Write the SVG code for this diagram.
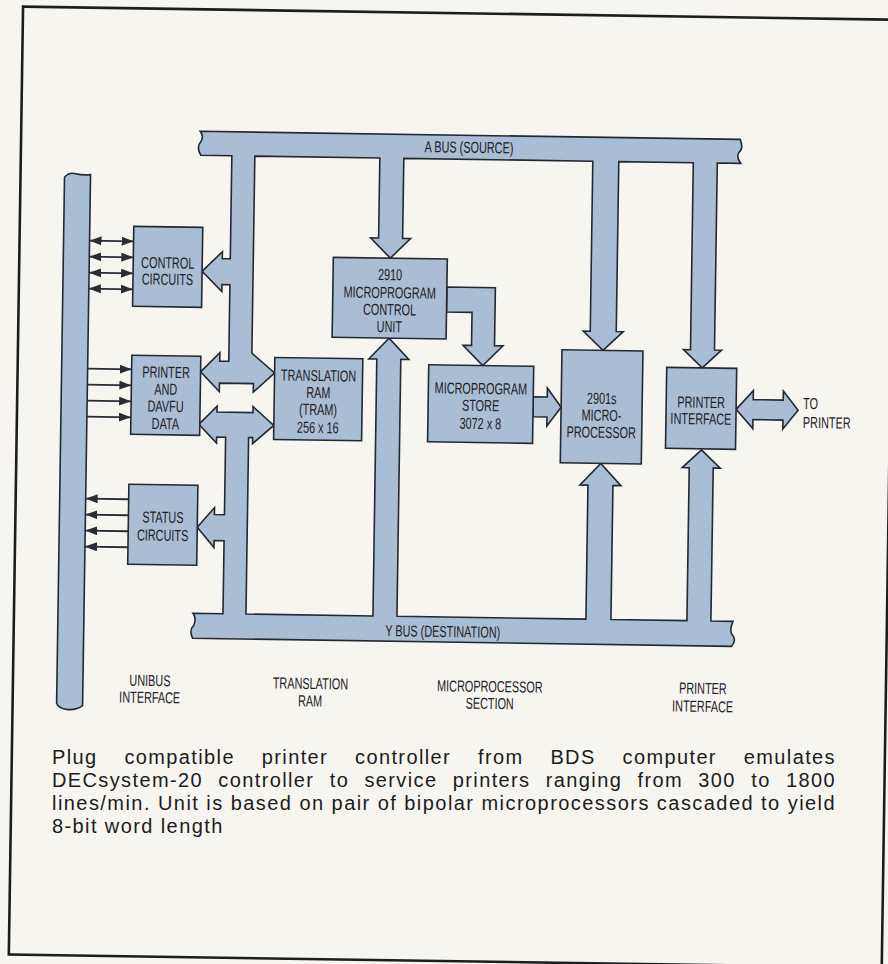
<svg xmlns="http://www.w3.org/2000/svg" width="888" height="964" viewBox="0 0 888 964">
<defs>
<style>
.bus{fill:#a9bdd4;stroke:#232932;stroke-width:1.6;stroke-linejoin:miter}
.box{fill:#a9bdd4;stroke:#232932;stroke-width:1.6}
.t{font-family:"Liberation Sans",Arial,sans-serif;font-size:16px;fill:#1e2128;text-anchor:middle}
.ts{font-family:"Liberation Sans",Arial,sans-serif;font-size:16px;fill:#1e2128;text-anchor:start}
.cap{font-family:"Liberation Sans",Arial,sans-serif;font-size:20px;letter-spacing:1.4px;fill:#1c1c1c}
.sig{stroke:#2a2d35;stroke-width:1.8;fill:none}
.frame{fill:none;stroke:#1d1d1d;stroke-width:2.6}
</style>
<marker id="ah" viewBox="0 0 12 9" refX="12" refY="4.5" markerWidth="12" markerHeight="9" markerUnits="userSpaceOnUse" orient="auto-start-reverse">
<path d="M0,0 L12,4.5 L0,9 Z" fill="#2a2d35"/>
</marker>
</defs>
<rect x="0" y="0" width="888" height="964" fill="#f6f5f0"/>
<g transform="rotate(0.86 444 480)">
<rect class="frame" x="16" y="13" width="873" height="948"/>

<g id="connectors">
<path id="unibus" class="bus" d="M60,183 Q64,178 70,179 Q78,181 86,180 L86,711 Q80,716 70,715 Q62,714 60,709 Z"/>
<path id="a-bus" class="bus" d="M195,135 L735,135 Q739,144 734,148 Q731,153 736,159 L712.5,159 L712.5,346 L719.5,346 L700.5,364 L681.5,346 L688.5,346 L688.5,159 L614,159 L614,329 L621,329 L601,348 L581,329 L588,329 L588,159 L399,159 L399,239 L407,239 L387,259 L367,239 L375,239 L375,159 L250,159 L250,356 L273,375.5 L252,395 L252,386.5 L218,386.5 L218,395 L199,375.5 L218,356 L218,364.5 L227,364.5 L227,288 L219,288 L219,295 L199,275 L219,255 L219,262 L227,262 L227,159 L196,159 Q191,151 196,145 Q199,140 195,135 Z"/>
<path id="y-bus" class="bus" d="M195,642 Q191,634 196,629 Q199,622 195,617 L225,617 L225,544 L215,544 L215,551 L198,531 L215,511 L215,518 L225,518 L225,440.5 L216,440.5 L216,446.5 L198,428 L216,409.5 L216,415.5 L252,415.5 L252,409.5 L273,428 L252,446.5 L252,440.5 L248,440.5 L248,617 L375,617 L375,360 L367,360 L387,339 L407,360 L399,360 L399,617 L588,617 L588,483 L580,483 L600.5,461 L621,483 L613,483 L613,617 L689,617 L689,464 L682,464 L701,446 L720,464 L713,464 L713,617 L735,617 Q731,627 735,631 Q739,636 734,642 Z"/>
<path id="cu-to-store" class="bus" d="M444,287 L492.5,287 L492.5,345 L501,345 L481,365 L461,345 L469.5,345 L469.5,312 L444,312 Z"/>
<path id="store-to-mp" class="bus" d="M532,395.5 L546,395.5 L546,386.5 L560,405.5 L546,424.5 L546,415.5 L532,415.5 Z"/>
<path id="pi-to-printer" class="bus" d="M735,405 L752,386 L752,395 L782,395 L782,386 L797,405 L782,424 L782,415 L752,415 L752,424 Z"/>
<g id="signals">
<line class="sig" x1="86" y1="246" x2="130" y2="246" marker-start="url(#ah)" marker-end="url(#ah)"/>
<line class="sig" x1="86" y1="262" x2="130" y2="262" marker-start="url(#ah)" marker-end="url(#ah)"/>
<line class="sig" x1="86" y1="278" x2="130" y2="278" marker-start="url(#ah)" marker-end="url(#ah)"/>
<line class="sig" x1="86" y1="294" x2="130" y2="294" marker-start="url(#ah)" marker-end="url(#ah)"/>
<line class="sig" x1="86" y1="374" x2="130" y2="374" marker-end="url(#ah)"/>
<line class="sig" x1="86" y1="390" x2="130" y2="390" marker-end="url(#ah)"/>
<line class="sig" x1="86" y1="406" x2="130" y2="406" marker-end="url(#ah)"/>
<line class="sig" x1="86" y1="422" x2="130" y2="422" marker-end="url(#ah)"/>
<line class="sig" x1="129" y1="504" x2="86" y2="504" marker-end="url(#ah)"/>
<line class="sig" x1="129" y1="520" x2="86" y2="520" marker-end="url(#ah)"/>
<line class="sig" x1="129" y1="536" x2="86" y2="536" marker-end="url(#ah)"/>
<line class="sig" x1="129" y1="552" x2="86" y2="552" marker-end="url(#ah)"/>
</g>
<text class="t" transform="translate(464,152.5) scale(0.68 1)">A BUS (SOURCE)</text>
<text class="t" transform="translate(445,637) scale(0.68 1)">Y BUS (DESTINATION)</text>
<text class="ts" transform="translate(802,403.6) scale(0.68 1)"><tspan x="0">TO</tspan><tspan x="0" dy="19">PRINTER</tspan></text>
</g>

<g id="control-circuits">
<rect class="box" x="130" y="231" width="69" height="80"/>
<text class="t" transform="translate(164.5,272.5) scale(0.68 1)"><tspan x="0">CONTROL</tspan><tspan x="0" dy="16.5">CIRCUITS</tspan></text>
</g>
<g id="printer-davfu-data">
<rect class="box" x="130" y="360" width="69" height="79"/>
<text class="t" transform="translate(164.5,382) scale(0.68 1)"><tspan x="0">PRINTER</tspan><tspan x="0" dy="17">AND</tspan><tspan x="0" dy="17">DAVFU</tspan><tspan x="0" dy="17.5">DATA</tspan></text>
</g>
<g id="status-circuits">
<rect class="box" x="129" y="489" width="69" height="80"/>
<text class="t" transform="translate(163.5,527) scale(0.68 1)"><tspan x="0">STATUS</tspan><tspan x="0" dy="18">CIRCUITS</tspan></text>
</g>
<g id="translation-ram">
<rect class="box" x="273" y="360" width="88" height="82"/>
<text class="t" transform="translate(317,383) scale(0.68 1)"><tspan x="0">TRANSLATION</tspan><tspan x="0" dy="17">RAM</tspan><tspan x="0" dy="17">(TRAM)</tspan><tspan x="0" dy="18">256 x 16</tspan></text>
</g>
<g id="microprogram-control-unit">
<rect class="box" x="330" y="259" width="114" height="80"/>
<text class="t" transform="translate(387,281) scale(0.68 1)"><tspan x="0">2910</tspan><tspan x="0" dy="18">MICROPROGRAM</tspan><tspan x="0" dy="17">CONTROL</tspan><tspan x="0" dy="17">UNIT</tspan></text>
</g>
<g id="microprogram-store">
<rect class="box" x="427" y="365" width="105" height="77"/>
<text class="t" transform="translate(479.5,393.5) scale(0.68 1)"><tspan x="0">MICROPROGRAM</tspan><tspan x="0" dy="17">STORE</tspan><tspan x="0" dy="18">3072 x 8</tspan></text>
</g>
<g id="microprocessor-2901s">
<rect class="box" x="560" y="348" width="81" height="113"/>
<text class="t" transform="translate(600.5,401.5) scale(0.68 1)"><tspan x="0">2901s</tspan><tspan x="0" dy="17">MICRO-</tspan><tspan x="0" dy="17">PROCESSOR</tspan></text>
</g>
<g id="printer-interface">
<rect class="box" x="665" y="364" width="70" height="81"/>
<text class="t" transform="translate(700,404) scale(0.68 1)"><tspan x="0">PRINTER</tspan><tspan x="0" dy="16.5">INTERFACE</tspan></text>
</g>

<g id="section-labels">
<text class="t" transform="translate(153,690.4) scale(0.68 1)"><tspan x="0">UNIBUS</tspan><tspan x="0" dy="17">INTERFACE</tspan></text>
<text class="t" transform="translate(313.5,691) scale(0.68 1)"><tspan x="0">TRANSLATION</tspan><tspan x="0" dy="17.5">RAM</tspan></text>
<text class="t" transform="translate(493,691.3) scale(0.68 1)"><tspan x="0">MICROPROCESSOR</tspan><tspan x="0" dy="17">SECTION</tspan></text>
<text class="t" transform="translate(706,690) scale(0.68 1)"><tspan x="0">PRINTER</tspan><tspan x="0" dy="18">INTERFACE</tspan></text>
</g>
</g>

<g id="caption">
<text class="cap" x="52" y="764" word-spacing="20" textLength="784" lengthAdjust="spacing">Plug compatible printer controller from BDS computer emulates</text>
<text class="cap" x="52" y="787" word-spacing="8.4" textLength="784" lengthAdjust="spacing">DECsystem-20 controller to service printers ranging from 300 to 1800</text>
<text class="cap" x="52" y="810" textLength="784" lengthAdjust="spacing">lines/min. Unit is based on pair of bipolar microprocessors cascaded to yield</text>
<text class="cap" x="52" y="833">8-bit word length</text>
</g>
</svg>
